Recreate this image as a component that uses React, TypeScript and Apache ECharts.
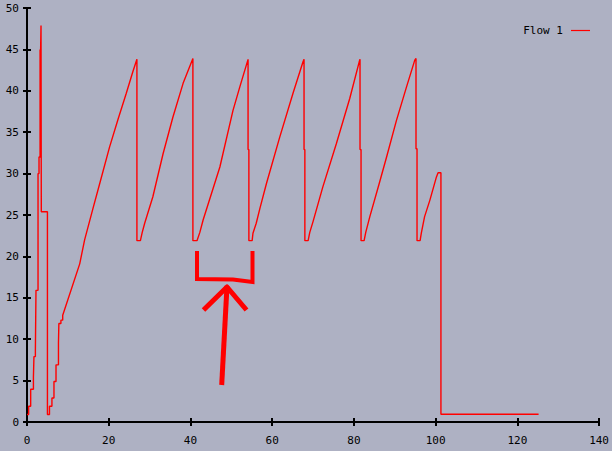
import React, { useEffect, useRef } from "react";
import * as echarts from "echarts";

// Flow 1 trace (corner points of the trace)
const flowX: number[] = [
  0, 0.4, 0.4, 0.9, 0.9, 1.57, 1.57, 1.7, 1.7, 2.05, 2.05, 2.2, 2.2, 2.7, 2.7, 2.94, 2.94, 3.2, 3.2, 3.28, 3.28, 3.33, 3.33, 3.43, 3.43, 3.5, 3.5, 5.0, 5.0,
  5.5, 5.5, 6.1, 6.1, 6.6, 6.6, 7.1, 7.1, 7.7, 7.7, 7.8, 7.8, 8.3, 8.3, 8.74, 8.74,
  12.9, 14.1, 16.15, 17.8, 20.2, 22.3, 24.3, 25.9, 26.9, 26.9, 27.75,
  28.2, 28.8, 30.8, 33.3, 35.7, 38.2, 40.6, 40.6, 41.6,
  42.3, 43.1, 47.2, 50.4, 52.1, 54.1, 54.1, 54.3, 54.3, 55.1,
  55.3, 56.1, 57.0, 58.6, 61.85, 65.1, 67.55, 67.8, 67.8, 68.0, 68.0, 68.8,
  69.2, 70.0, 72.4, 75.7, 79.0, 81.3, 81.5, 81.5, 81.75, 81.75, 82.5,
  82.9, 83.9, 86.2, 88.0, 90.4, 92.9, 94.9, 95.2, 95.2, 95.45, 95.45, 96.2,
  96.5, 97.3, 98.6, 100.2, 100.6, 101.3, 101.3, 125.2,
];
const flowY: number[] = [
  0.9, 0.9, 1.9, 1.9, 3.95, 3.95, 5.4, 5.4, 7.9, 7.9, 8.5, 8.5, 15.9, 15.9, 30, 30, 32, 32, 45, 45, 32, 32, 45, 45, 47.9, 47.9, 25.4, 25.4, 0.9,
  0.9, 1.9, 1.9, 2.9, 2.9, 4.9, 4.9, 6.9, 6.9, 9.5, 9.5, 11.9, 11.9, 12.3, 12.3, 12.9,
  19.1, 22.0, 25.8, 28.8, 33.2, 36.6, 39.7, 42.3, 43.8, 21.9, 21.9,
  22.9, 24.0, 27.2, 32.4, 36.8, 40.9, 43.9, 21.9, 21.9,
  22.9, 24.4, 30.8, 37.6, 40.5, 43.8, 32.9, 32.9, 21.9, 21.9,
  22.8, 24.0, 25.8, 28.8, 34.4, 39.7, 43.5, 43.8, 32.9, 32.9, 21.9, 21.9,
  22.9, 24.2, 28.4, 33.6, 39.1, 43.5, 43.8, 32.9, 32.9, 21.9, 21.9,
  22.9, 24.8, 28.8, 32.0, 36.4, 40.5, 43.7, 43.9, 33.0, 33.0, 21.9, 21.9,
  22.8, 24.8, 26.8, 29.6, 30.1, 30.1, 0.93, 0.93,
];

const seriesName = "Flow 1";
const xMin = 0, xMax = 140, xStep = 20;
const yMin = 0, yMax = 50, yStep = 5;

const FONT = "'DejaVu Sans Mono', monospace";
const BG = "#aeb1c3";

export default function App() {
  const ref = useRef<HTMLDivElement>(null);
  useEffect(() => {
    if (!ref.current) return;
    const chart = echarts.init(ref.current, undefined, { renderer: "svg" });
    const data = flowX.map((x, i) => [x, flowY[i]]);
    const axisLine = { show: true, lineStyle: { color: "#000", width: 2 } };
    const tick = { show: true, inside: true, length: 4, lineStyle: { color: "#000", width: 2 } };
    const label = { color: "#000", fontFamily: FONT, fontSize: 11 };
    const red = "#ff0000";
    chart.setOption({
      animation: false,
      backgroundColor: BG,
      grid: { left: 27, right: 12, top: 8, bottom: 29, show: false },
      legend: {
        data: [{ name: seriesName, icon: "rect" }],
        right: 22,
        top: 25,
        padding: 0,
        align: "right",
        itemWidth: 19,
        itemHeight: 1.2,
        itemStyle: { color: red },
        textStyle: { color: "#000", fontFamily: FONT, fontSize: 11, padding: [0, 3, 0, 0] },
      },
      xAxis: [
        {
          type: "value", min: xMin, max: xMax, interval: xStep, position: "bottom",
          axisLine, axisTick: tick, splitLine: { show: false },
          axisLabel: { ...label, margin: 13 },
        },
        {
          type: "value", min: xMin, max: xMax, interval: xStep, position: "top",
          axisLine, axisTick: tick, splitLine: { show: false }, axisLabel: { show: false },
        },
      ],
      yAxis: [
        {
          type: "value", min: yMin, max: yMax, interval: yStep, position: "left",
          axisLine, axisTick: tick, splitLine: { show: false },
          axisLabel: { ...label, margin: 8 },
        },
        {
          type: "value", min: yMin, max: yMax, interval: yStep, position: "right",
          axisLine, axisTick: tick, splitLine: { show: false }, axisLabel: { show: false },
        },
      ],
      series: [
        {
          name: seriesName,
          type: "line",
          xAxisIndex: 0,
          yAxisIndex: 0,
          data,
          symbol: "none",
          lineStyle: { color: red, width: 1.4 },
          itemStyle: { color: red },
        },
      ],
      graphic: [
        {
          type: "polyline",
          shape: { points: [[197, 251], [197, 279], [233, 279.5], [252.5, 282], [252.5, 251]] },
          style: { stroke: red, lineWidth: 4, fill: "none", lineJoin: "miter" },
          z: 100,
        },
        {
          type: "polyline",
          shape: { points: [[221.7, 385], [227, 286]] },
          style: { stroke: red, lineWidth: 5, fill: "none" },
          z: 100,
        },
        {
          type: "polyline",
          shape: { points: [[203.5, 310], [227, 287], [246.5, 310]] },
          style: { stroke: red, lineWidth: 5, fill: "none", lineJoin: "round" },
          z: 100,
        },
      ],
    });
    return () => chart.dispose();
  }, []);
  return (
    <div
      ref={ref}
      style={{ position: "fixed", left: 0, top: 0, width: 612, height: 451, background: BG }}
    />
  );
}
